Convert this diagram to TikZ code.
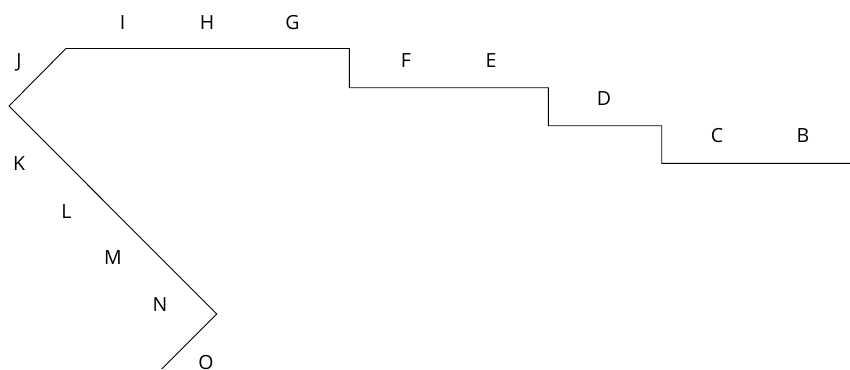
\documentclass[tikz,border=0pt]{standalone}
\usepackage{fontspec}
\setmainfont{Open Sans}
\begin{document}
\begin{tikzpicture}[x=1pt,y=-1pt,
  lab/.style={font=\fontsize{19.5}{22}\selectfont, inner sep=0pt, text=black},
  route/.style={draw=black, line width=0.9pt, line join=miter}]
\useasboundingbox (0,0) rectangle (850,369);
% path corners
\coordinate (p1) at (850,163.3);
\coordinate (p2) at (661.7,163.3);
\coordinate (p3) at (661.7,125.7);
\coordinate (p4) at (548.3,125.7);
\coordinate (p5) at (548.3,87.7);
\coordinate (p6) at (349.3,87.7);
\coordinate (p7) at (349.3,48.5);
\coordinate (p8) at (66,48.5);
\coordinate (p9) at (9,106);
\coordinate (p10) at (216.7,314);
\coordinate (p11) at (161.7,369);
\draw[route] (p1) -- (p2) -- (p3) -- (p4) -- (p5) -- (p6) -- (p7) -- (p8) -- (p9) -- (p10) -- (p11);
% labels
\node[lab] (B) at (803,136) {B};
\node[lab] (C) at (717,136) {C};
\node[lab] (D) at (604,99) {D};
\node[lab] (E) at (491,60.5) {E};
\node[lab] (F) at (406,60.5) {F};
\node[lab] (G) at (292.5,22.5) {G};
\node[lab] (H) at (207,22.5) {H};
\node[lab] (I) at (122.5,22.5) {I};
\node[lab] (J) at (19,62) {J};
\node[lab] (K) at (19,164) {K};
\node[lab] (L) at (66.5,212) {L};
\node[lab] (M) at (113,258) {M};
\node[lab] (N) at (160,305) {N};
\node[lab] (O) at (206,362.5) {O};
\end{tikzpicture}
\end{document}
